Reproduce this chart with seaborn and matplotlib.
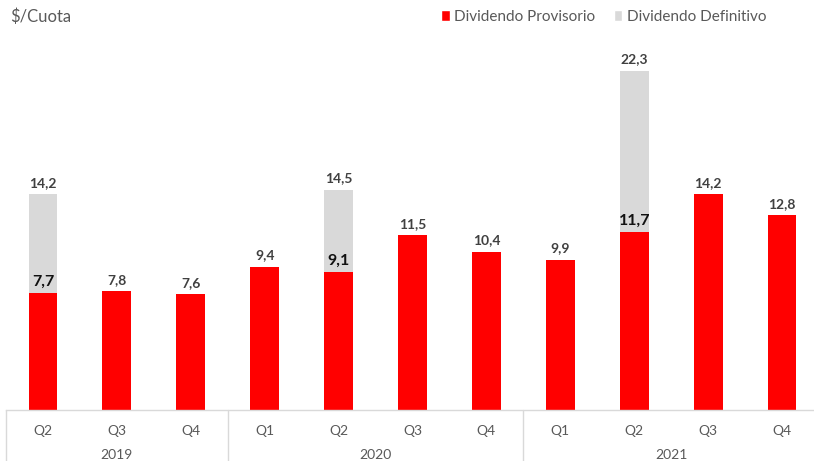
import matplotlib
matplotlib.use("Agg")
import matplotlib.pyplot as plt
from matplotlib.patches import Patch
import seaborn as sns
import pandas as pd

years = ["2019", "2019", "2019", "2020", "2020", "2020", "2020", "2021", "2021", "2021", "2021"]
quarters = ["Q2", "Q3", "Q4", "Q1", "Q2", "Q3", "Q4", "Q1", "Q2", "Q3", "Q4"]
provisorio = [7.7, 7.8, 7.6, 9.4, 9.1, 11.5, 10.4, 9.9, 11.7, 14.2, 12.8]
definitivo = [6.5, 0, 0, 0, 5.4, 0, 0, 0, 10.6, 0, 0]
year_labels = ["2019", "2020", "2021"]

sns.set_style("white")
plt.rcParams["font.family"] = ["Lato", "DejaVu Sans"]

RED = "#ff0000"
GRAY = "#d9d9d9"
TXT = "#595959"

df = pd.DataFrame({
    "key": [f"{y}-{q}" for y, q in zip(years, quarters)],
    "provisorio": provisorio,
    "definitivo": definitivo,
})
df["total"] = df["provisorio"] + df["definitivo"]

fig = plt.figure(figsize=(8.14, 4.61), dpi=100)
ax = fig.add_axes([6 / 814, 51 / 461, 813 / 814, 380 / 461])

sns.barplot(data=df, x="key", y="total", color=GRAY, width=0.39, saturation=1,
            errorbar=None, linewidth=0, ax=ax)
sns.barplot(data=df, x="key", y="provisorio", color=RED, width=0.39, saturation=1,
            errorbar=None, linewidth=0, ax=ax)

ax.set_xlim(-0.5, len(df) - 0.5)
ax.set_ylim(0, 25)
ax.set_xlabel("")
ax.set_ylabel("")
ax.set_yticks([])
for s in ["top", "right", "left"]:
    ax.spines[s].set_visible(False)
ax.spines["bottom"].set_color(GRAY)
ax.spines["bottom"].set_linewidth(1)

ax.set_xticks(range(len(df)))
ax.set_xticklabels(quarters, color=TXT, fontsize=10)
ax.tick_params(axis="x", length=0, pad=11)

def fmt(v):
    return f"{v:.1f}".replace(".", ",")

for i, row in df.iterrows():
    if row["definitivo"] > 0:
        ax.annotate(fmt(row["total"]), (i, row["total"]), xytext=(0, 4),
                    textcoords="offset points", ha="center", va="bottom",
                    fontsize=10, fontweight="bold", color="#404040")
        ax.annotate(fmt(row["provisorio"]), (i, row["provisorio"]), xytext=(0, 3),
                    textcoords="offset points", ha="center", va="bottom",
                    fontsize=11.5, fontweight="bold", color="#111111")
    else:
        ax.annotate(fmt(row["provisorio"]), (i, row["provisorio"]), xytext=(0, 4),
                    textcoords="offset points", ha="center", va="bottom",
                    fontsize=10, fontweight="bold", color="#404040")

# group separators and year labels
trans = ax.get_xaxis_transform()
bounds = [-0.5]
start = 0
groups = []
for yl in year_labels:
    n = years.count(yl)
    groups.append((yl, start, start + n - 1))
    start += n
    bounds.append(start - 0.5)
for b in bounds[:-1]:
    ax.plot([b, b], [0, -60 / 380], transform=trans, color=GRAY, lw=1, clip_on=False)
for yl, a, b in groups:
    ax.text((a + b) / 2, -45 / 380, yl, transform=trans, ha="center", va="center",
            fontsize=10, color=TXT)

fig.text(10 / 814, 1 - 17 / 461, "$/Cuota", fontsize=12, color=TXT, ha="left", va="center")

handles = [Patch(facecolor=RED, label="Dividendo Provisorio"),
           Patch(facecolor=GRAY, label="Dividendo Definitivo")]
fig.legend(handles=handles, loc="center right", bbox_to_anchor=(780 / 814, 1 - 17 / 461),
           ncol=2, frameon=False, fontsize=11, labelcolor=TXT, handlelength=0.55,
           handleheight=0.7, handletextpad=0.3, columnspacing=1.2)

fig.savefig("out.png", dpi=100)
